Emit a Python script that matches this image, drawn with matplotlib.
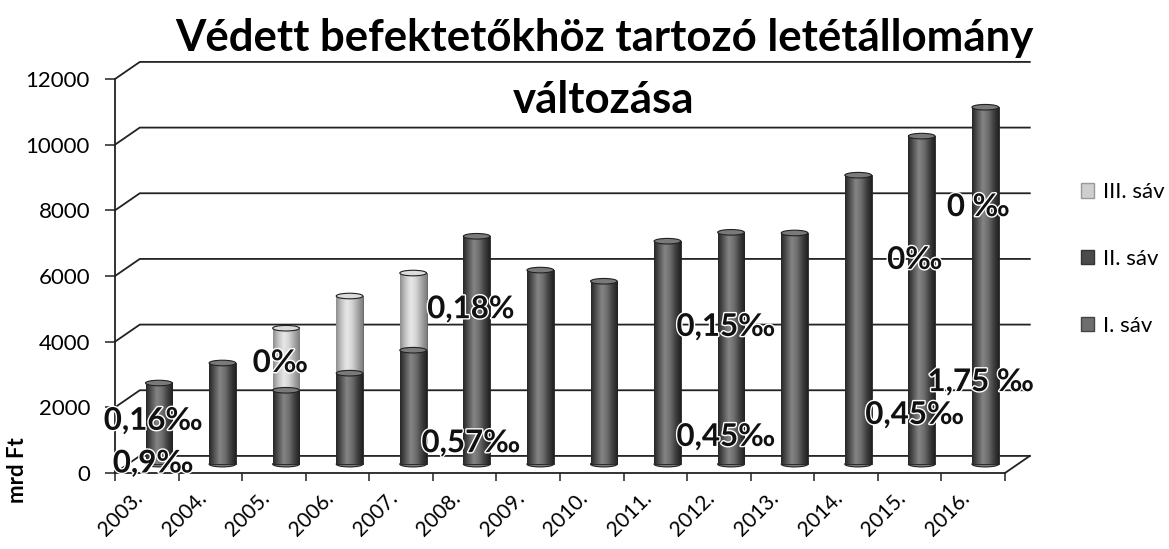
import numpy as np
import matplotlib
matplotlib.use('Agg')
import matplotlib.pyplot as plt
import matplotlib.patheffects as pe
from matplotlib.patches import Ellipse, Patch
from matplotlib.colors import LinearSegmentedColormap

plt.rcParams['font.family'] = ['Lato', 'DejaVu Sans']

# data (mrd Ft)
years = ['2003.', '2004.', '2005.', '2006.', '2007.', '2008.', '2009.',
         '2010.', '2011.', '2012.', '2013.', '2014.', '2015.', '2016.']
sav_1 = [2470, 3080, 2250, 2770, 3470, 6940, 5910, 5570, 6790, 7060, 7040, 8800, 9990, 10870]
sav_2 = [0, 0, 0, 0, 0, 0, 0, 0, 0, 0, 0, 0, 0, 0]
sav_3 = [0, 0, 1890, 2350, 2350, 0, 0, 0, 0, 0, 0, 0, 0, 0]
y_ticks = [0, 2000, 4000, 6000, 8000, 10000, 12000]

# fee notes written over the bars
notes = ['0,9‰', '0,16‰', '0‰', '0,18%', '0,57‰', '0,15‰', '0,45‰',
         '0‰', '0,45‰', '0 ‰', '1,75 ‰']
note_x = [0.10, 0.10, 2.10, 5.10, 5.10, 9.11, 9.11, 12.08, 12.08, 13.08, 13.12]
note_y = [290, 1590, 3350, 4990, 910, 4450, 1100, 6490, 1770, 8100, 2770]

# pseudo-3D offsets (data units)
back_dx, back_dy = 0.39, 520     # back wall
mid_dx, mid_dy = 0.19, 270       # bars sit mid-depth
bar_w = 0.42
cap_h = 170

cmap_1 = LinearSegmentedColormap.from_list('s1', ['#262626', '#555555', '#858585', '#6e6e6e', '#424242', '#202020'])
cmap_2 = LinearSegmentedColormap.from_list('s2', ['#202020', '#444444', '#6c6c6c', '#555555', '#333333', '#1a1a1a'])
cmap_3 = LinearSegmentedColormap.from_list('s3', ['#8e8e8e', '#c4c4c4', '#e8e8e8', '#d4d4d4', '#a8a8a8', '#7e7e7e'])
grad = np.linspace(0, 1, 64).reshape(1, -1)

fig = plt.figure(figsize=(11.69, 5.49), dpi=100)
ax = fig.add_axes([115 / 1169, 76 / 549, 890 / 1169, 394 / 549])

x = np.arange(len(years))

# back wall / side wall gridlines
for v in y_ticks:
    ax.plot([-0.5, -0.5 + back_dx, 13.5 + back_dx], [v, v + back_dy, v + back_dy],
            color='#222222', lw=1.3, zorder=1, clip_on=False)
ax.plot([13.5, 13.5 + back_dx], [0, back_dy], color='#222222', lw=1.3, zorder=1, clip_on=False)


def draw_cylinders(bars, cmap, cap_fc, base_caps):
    for p, base in zip(bars, base_caps):
        h = p.get_height()
        if h <= 0:
            continue
        x0, y0, w = p.get_x(), p.get_y(), p.get_width()
        cx = x0 + w / 2
        if base:
            ax.add_patch(Ellipse((cx, y0), w, cap_h, fc=cmap(0.5), ec='#222222',
                                 lw=0.8, zorder=2.9, clip_on=False))
        im = ax.imshow(grad, extent=(x0, x0 + w, y0, y0 + h), aspect='auto',
                       cmap=cmap, zorder=3, interpolation='bicubic', clip_on=False)
        im.set_clip_path(p)
        ax.add_patch(Ellipse((cx, y0 + h), w, cap_h, fc=cap_fc, ec='#222222',
                             lw=0.8, zorder=3.3, clip_on=False))


bottom_1 = np.full(len(years), mid_dy, dtype=float)
b1 = ax.bar(x + mid_dx, sav_1, width=bar_w, bottom=bottom_1, color='#555555',
            edgecolor='#222222', lw=0.6, zorder=2.95)
draw_cylinders(b1, cmap_1, '#7a7a7a', [True] * len(years))

bottom_2 = bottom_1 + np.array(sav_1)
b2 = ax.bar(x + mid_dx, sav_2, width=bar_w, bottom=bottom_2, color='#444444',
            edgecolor='#222222', lw=0.6, zorder=2.95)
draw_cylinders(b2, cmap_2, '#6a6a6a', [False] * len(years))

bottom_3 = bottom_2 + np.array(sav_2)
b3 = ax.bar(x + mid_dx, sav_3, width=bar_w, bottom=bottom_3, color='#bbbbbb',
            edgecolor='#555555', lw=0.6, zorder=2.95)
draw_cylinders(b3, cmap_3, '#dcdcdc', [False] * len(years))

# notes
for t, nx, ny in zip(notes, note_x, note_y):
    ax.text(nx, ny, t, ha='center', va='center', fontsize=22.5, fontweight='bold',
            color='#111111', zorder=6, clip_on=False,
            path_effects=[pe.withStroke(linewidth=2, foreground='white')])

ax.set_xlim(-0.5, 13.5)
ax.set_ylim(0, 12000)
for s in ['top', 'right']:
    ax.spines[s].set_visible(False)
for s in ['left', 'bottom']:
    ax.spines[s].set_color('#222222')
    ax.spines[s].set_linewidth(1.3)

ax.set_yticks(y_ticks)
ax.set_yticklabels([str(v) for v in y_ticks], fontsize=16)
ax.tick_params(axis='y', length=7, width=1.1, color='#222222', pad=11)

ax.set_xticks(x)
ax.set_xticklabels(years, rotation=45, ha='right', fontsize=15)
ax.set_xticks(np.arange(-0.5, 14, 1), minor=True)
ax.tick_params(axis='x', which='major', length=0, pad=11)
ax.tick_params(axis='x', which='minor', length=6, width=1.1, color='#222222')

fig.text(17 / 1169, 1 - 470 / 549, 'mrd Ft', rotation=90, ha='center', va='center',
         fontsize=16, fontweight='bold')

fig.text(604 / 1169, 1 - 38 / 549, 'Védett befektetőkhöz tartozó letétállomány',
         ha='center', va='center', fontsize=31.5, fontweight='bold', zorder=7)
fig.text(604 / 1169, 1 - 100 / 549, 'változása',
         ha='center', va='center', fontsize=31.5, fontweight='bold', zorder=7)

handles = [Patch(facecolor='#cfcfcf', edgecolor='#999999', label='III. sáv'),
           Patch(facecolor='#4a4a4a', edgecolor='#333333', label='II. sáv'),
           Patch(facecolor='#6e6e6e', edgecolor='#444444', label='I. sáv')]
fig.legend(handles=handles, loc='center left', bbox_to_anchor=(1072 / 1169, 1 - 259 / 549),
           frameon=False, fontsize=16, handlelength=0.6, handleheight=0.6,
           handletextpad=0.4, labelspacing=2.1, borderaxespad=0)

fig.savefig('out.png', dpi=100)
